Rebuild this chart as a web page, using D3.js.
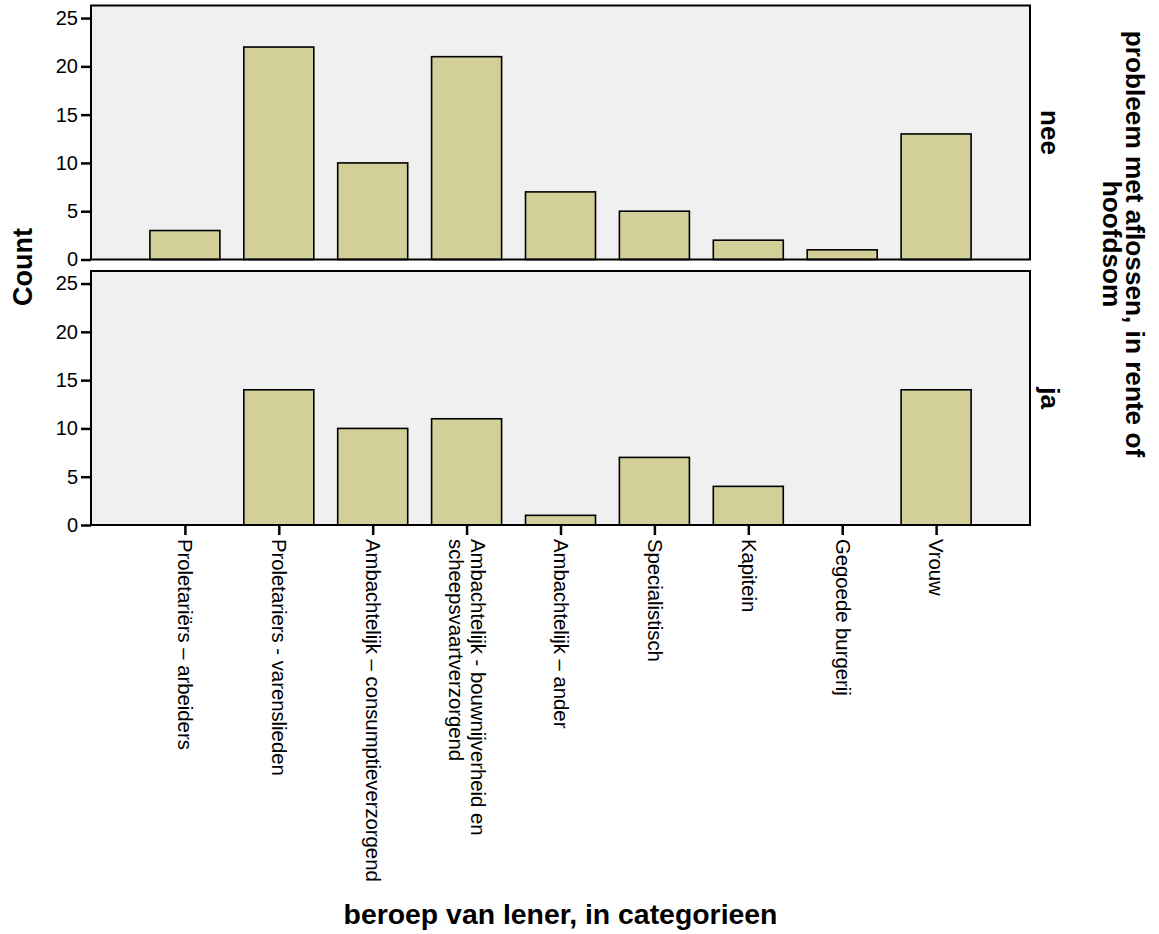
<!DOCTYPE html>
<html>
<head>
<meta charset="utf-8">
<script src="https://cdn.jsdelivr.net/npm/d3@7"></script>
<style>
  body { margin: 0; background: white; }
  text { font-family: "Liberation Sans", Arial, sans-serif; }
</style>
</head>
<body>
<div id="viz-container"></div>
<script>
// data
let categories = [
  "Proletariërs – arbeiders",
  "Proletariers - varenslieden",
  "Ambachtelijk – consumptieverzorgend",
  "Ambachtelijk - bouwnijverheid en scheepsvaartverzorgend",
  "Ambachtelijk – ander",
  "Specialistisch",
  "Kapitein",
  "Gegoede burgerij",
  "Vrouw"
];
// how the long label is broken over two lines
let categoryLines = [
  ["Proletariërs – arbeiders"],
  ["Proletariers - varenslieden"],
  ["Ambachtelijk – consumptieverzorgend"],
  ["Ambachtelijk - bouwnijverheid en", "scheepsvaartverzorgend"],
  ["Ambachtelijk – ander"],
  ["Specialistisch"],
  ["Kapitein"],
  ["Gegoede burgerij"],
  ["Vrouw"]
];
let panelNames = ["nee", "ja"];
let neeValues = [3, 22, 10, 21, 7, 5, 2, 1, 13];
let jaValues = [0, 14, 10, 11, 1, 7, 4, 0, 14];
let yTicks = [0, 5, 10, 15, 20, 25];
let yMax = 26.3;

// layout
let W = 1159, H = 934;
let left = 91, right = 1030;
let panelTops = [5.5, 271];
let panelHeight = 254;
let barW = 70;

let viz = d3.select("#viz-container")
              .append("svg")
                  .attr("id", "viz")
                  .attr("width", W)
                  .attr("height", H)
;

let x = d3.scalePoint()
            .domain(categories)
            .range([left, right])
            .padding(1)
;

let panelData = [neeValues, jaValues];

panelNames.forEach(function(name, p){
  let top = panelTops[p];
  let y = d3.scaleLinear()
              .domain([0, yMax])
              .range([top + panelHeight, top])
  ;
  let g = viz.append("g").attr("class", "panel-" + name);

  // background
  g.append("rect")
      .attr("x", left)
      .attr("y", top)
      .attr("width", right - left)
      .attr("height", panelHeight)
      .attr("fill", "#f0f0f0")
  ;

  let rows = categories.map(function(c, i){ return {cat: c, value: panelData[p][i]}; });

  g.selectAll(".bar").data(rows.filter(d => d.value > 0)).enter()
    .append("rect")
      .attr("class", "bar")
      .attr("x", d => x(d.cat) - barW / 2)
      .attr("y", d => y(d.value))
      .attr("width", barW)
      .attr("height", d => y(0) - y(d.value))
      .attr("fill", "#d3cf98")
      .attr("stroke", "black")
      .attr("stroke-width", 1.6)
  ;

  // frame
  g.append("rect")
      .attr("x", left)
      .attr("y", top)
      .attr("width", right - left)
      .attr("height", panelHeight)
      .attr("fill", "none")
      .attr("stroke", "black")
      .attr("stroke-width", 2)
  ;

  let yAxis = g.append("g")
      .attr("transform", "translate(" + left + ",0)")
      .call(d3.axisLeft(y).tickValues(yTicks).tickSize(10).tickPadding(3))
  ;
  yAxis.select(".domain").remove();
  yAxis.selectAll(".tick line").attr("stroke-width", 2.5);
  yAxis.selectAll(".tick text")
      .attr("font-size", 20)
      .attr("font-family", "Liberation Sans, Arial, sans-serif")
      .attr("fill", "black")
  ;

  // panel label on the right
  g.append("text")
      .attr("transform", "translate(1050," + (top + panelHeight / 2) + ") rotate(90)")
      .attr("text-anchor", "middle")
      .attr("dy", "0.35em")
      .attr("font-size", 26)
      .attr("font-weight", "bold")
      .text(name)
  ;

  if (p == 1) {
    let xAxis = g.append("g")
        .attr("transform", "translate(0," + (top + panelHeight) + ")")
        .call(d3.axisBottom(x).tickSize(10))
    ;
    xAxis.select(".domain").remove();
    xAxis.selectAll(".tick line").attr("stroke-width", 2.5);
    xAxis.selectAll(".tick text").remove();

    xAxis.selectAll(".tick").each(function(d, i){
      let lines = categoryLines[i];
      let t = d3.select(this).append("text")
          .attr("transform", "translate(0,14) rotate(90)")
          .attr("text-anchor", "start")
          .attr("fill", "black")
          .attr("font-size", 20.3)
          .attr("font-family", "Liberation Sans, Arial, sans-serif")
      ;
      lines.forEach(function(l, k){
        t.append("tspan")
            .attr("x", 0)
            .attr("y", 0)
            .attr("dy", (0.35 + (k - (lines.length - 1) / 2) * 1.05) + "em")
            .text(l)
        ;
      });
    });
  }
});

// axis titles
viz.append("text")
    .attr("transform", "translate(22,267) rotate(-90)")
    .attr("text-anchor", "middle")
    .attr("dy", "0.36em")
    .attr("font-size", 27)
    .attr("font-weight", "bold")
    .text("Count")
;

viz.append("text")
    .attr("x", (left + right) / 2)
    .attr("y", 924)
    .attr("text-anchor", "middle")
    .attr("font-size", 28.4)
    .attr("font-weight", "bold")
    .text("beroep van lener, in categorieen")
;

let rightTitle = ["probleem met aflossen, in rente of", "hoofdsom"];
rightTitle.forEach(function(l, k){
  viz.append("text")
      .attr("transform", "translate(" + (1135 - k * 23) + ",244) rotate(90)")
      .attr("text-anchor", "middle")
      .attr("dy", "0.36em")
      .attr("font-size", 26.2)
      .attr("font-weight", "bold")
      .text(l)
  ;
});
</script>
</body>
</html>
